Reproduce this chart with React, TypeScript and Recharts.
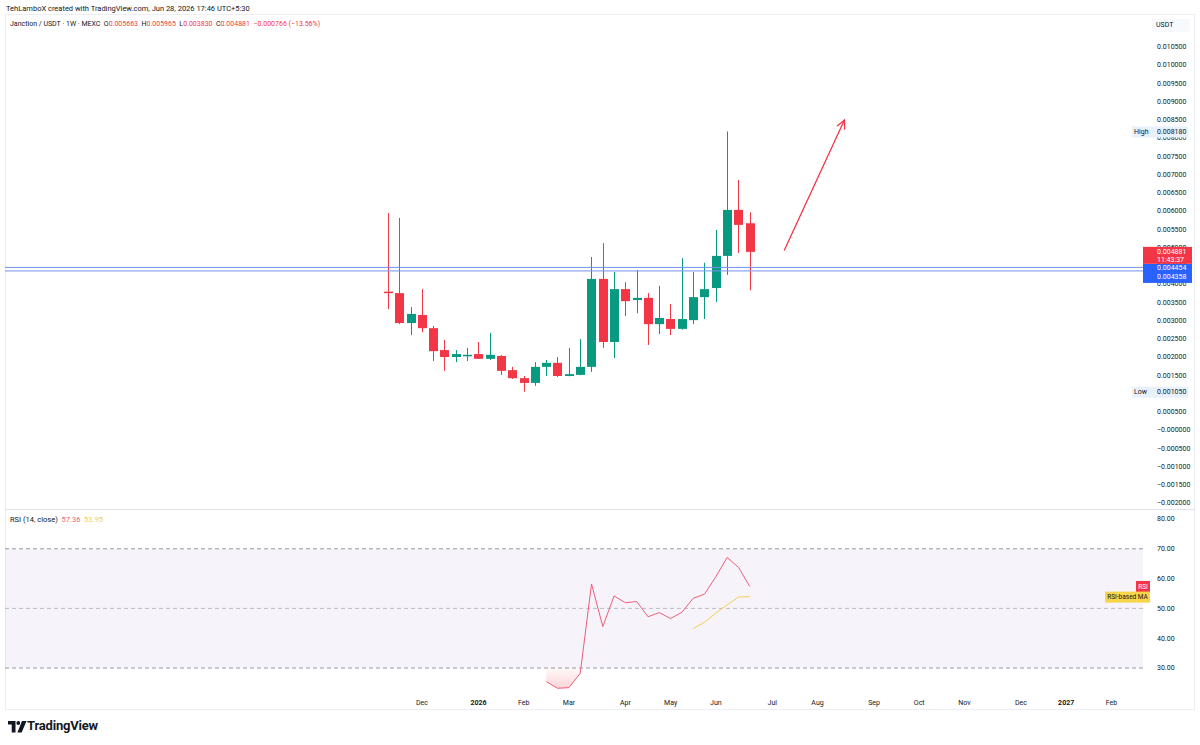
import React from 'react';
import {
    ComposedChart,
    Bar,
    Line,
    Area,
    XAxis,
    YAxis,
    ReferenceLine,
    ReferenceArea,
} from 'recharts';

// weekly candles, Nov 10 2025 -> Jun 22 2026 (index 1..33)
const opens = [
    0.00379, 0.00375, 0.00293, 0.00315, 0.00279, 0.00219, 0.002, 0.00204, 0.00208, 0.00195, 0.00203,
    0.00164, 0.00142, 0.00129, 0.00173, 0.00184, 0.00148, 0.00151, 0.00173, 0.00414, 0.00241, 0.00386,
    0.00356, 0.00362, 0.0029, 0.00304, 0.00277, 0.00301, 0.00364, 0.00389, 0.00477, 0.00603, 0.005663,
];
const highs = [
    0.005945, 0.00581, 0.00337, 0.00386, 0.00285, 0.00247, 0.00219, 0.00225, 0.00241, 0.00266, 0.00205,
    0.00173, 0.00148, 0.00186, 0.00192, 0.002, 0.00225, 0.00249, 0.00474, 0.00512, 0.00433, 0.00405,
    0.00438, 0.00375, 0.00395, 0.00345, 0.00471, 0.00433, 0.00458, 0.00548, 0.00818, 0.00685, 0.005965,
];
const lows = [
    0.00331, 0.0029, 0.0026, 0.00268, 0.00189, 0.00162, 0.00186, 0.00189, 0.00195, 0.00192, 0.00151,
    0.0014, 0.00105, 0.00121, 0.00148, 0.00145, 0.00147, 0.0015, 0.00159, 0.00225, 0.00197, 0.00312,
    0.0032, 0.00233, 0.00263, 0.0026, 0.00275, 0.0029, 0.00304, 0.00351, 0.00425, 0.00485, 0.00383,
];
const closes = [
    0.00375, 0.00293, 0.00318, 0.00279, 0.00216, 0.002, 0.00208, 0.00206, 0.00195, 0.00206, 0.00162,
    0.00142, 0.00129, 0.00173, 0.00184, 0.00148, 0.00153, 0.00173, 0.00414, 0.00241, 0.00386, 0.00353,
    0.00362, 0.0029, 0.00307, 0.00277, 0.00304, 0.00364, 0.00386, 0.00477, 0.00603, 0.00562, 0.004881,
];

const rsiStart = 15;
const rsiValues = [
    25.4, 23.2, 23.4, 28.2, 58.2, 43.9, 54.2, 51.9, 52.3, 47.2, 48.6, 46.6, 48.7, 53.4, 54.8, 60.6,
    67.1, 63.8, 57.36,
];
const rsiMaStart = 28;
const rsiMaValues = [43.2, 45.4, 48.4, 51.2, 53.8, 53.95];

const levelLines = [0.004454, 0.004358];
const lastClose = 0.004881;
const highMark = 0.00818;
const lowMark = 0.00105;
const arrowPoints = [
    { x: 36.07, y: 0.004932 },
    { x: 41.38, y: 0.008493 },
];

const monthTicks = [4, 9, 13, 17, 22, 26, 30, 35, 39, 44, 48, 52, 57, 61, 65];
const monthLabels = ['Dec', '2026', 'Feb', 'Mar', 'Apr', 'May', 'Jun', 'Jul', 'Aug', 'Sep', 'Oct', 'Nov', 'Dec', '2027', 'Feb'];
const priceTicks = [
    -0.002, -0.0015, -0.001, -0.0005, 0, 0.0005, 0.001, 0.0015, 0.002, 0.0025, 0.003, 0.0035, 0.004,
    0.0045, 0.005, 0.0055, 0.006, 0.0065, 0.007, 0.0075, 0.008, 0.0085, 0.009, 0.0095, 0.01, 0.0105,
];
const rsiTicks = [30, 40, 50, 60, 70, 80];

const GREEN = '#089981';
const RED = '#f23645';
const TEXT = '#131722';
const X_DOMAIN = [-32.9, 67.8];
const PRICE_DOMAIN = [-0.0021918, 0.0113699];

const candles = opens.map((o, k) => ({
    i: k + 1,
    open: o,
    high: highs[k],
    low: lows[k],
    close: closes[k],
    range: [lows[k], highs[k]],
}));

const rsiData = rsiValues.map((v, k) => {
    const i = rsiStart + k;
    const m = i - rsiMaStart;
    return {
        i,
        rsi: v,
        ma: m >= 0 ? rsiMaValues[m] : undefined,
        os: v < 30 ? [v, 30] : undefined,
    };
});

const Candle = (props: any) => {
    const { x, y, width, height, payload } = props;
    const { open, close, high, low } = payload;
    const color = close >= open ? GREEN : RED;
    const py = (v: number) => y + ((high - v) / (high - low)) * height;
    const top = py(Math.max(open, close));
    const bottom = py(Math.min(open, close));
    const cx = Math.round(x + width / 2) + 0.5;
    return (
        <g>
            <line x1={cx} x2={cx} y1={y} y2={y + height} stroke={color} strokeWidth={1} />
            <rect x={cx - 4.5} y={top} width={9} height={Math.max(bottom - top, 1.5)} fill={color} />
        </g>
    );
};

const Arrow = (props: any) => {
    const { x1, y1, x2, y2 } = props;
    const a = Math.atan2(y2 - y1, x2 - x1);
    const len = 9;
    const p1 = [x2 - len * Math.cos(a - 0.45), y2 - len * Math.sin(a - 0.45)];
    const p2 = [x2 - len * Math.cos(a + 0.45), y2 - len * Math.sin(a + 0.45)];
    return (
        <g stroke={RED} strokeWidth={1.3} fill="none" strokeLinecap="round">
            <line x1={x1} y1={y1} x2={x2} y2={y2} />
            <polyline points={`${p1[0]},${p1[1]} ${x2},${y2} ${p2[0]},${p2[1]}`} />
        </g>
    );
};

const fmtPrice = (v: number) => (v <= 0 ? '\u2212' + Math.abs(v).toFixed(6) : v.toFixed(6));

const MonthTick = (props: any) => {
    const { x, y, payload } = props;
    const label = monthLabels[monthTicks.indexOf(payload.value)];
    const bold = label.length === 4;
    return (
        <text x={x} y={y} dy={8.5} textAnchor="middle" fontSize={7} fontWeight={bold ? 700 : 400} fill={TEXT}>
            {label}
        </text>
    );
};

const CloseLabel = (props: any) => {
    const { viewBox } = props;
    const x = viewBox.x + viewBox.width;
    const y = viewBox.y;
    return (
        <g>
            <rect x={x} y={y - 5} width={49} height={17} fill={RED} />
            <text x={x + 14} y={y + 2.5} fontSize={7} fill="#fff">{lastClose.toFixed(6)}</text>
            <text x={x + 14} y={y + 10} fontSize={7} fill="#fff">11:43:37</text>
        </g>
    );
};

const LevelLabel = (props: any) => {
    const { viewBox } = props;
    const x = viewBox.x + viewBox.width;
    const y = viewBox.y;
    return (
        <g>
            <rect x={x} y={y - 3.5} width={49} height={19} fill="#2962ff" />
            <text x={x + 14} y={y + 3} fontSize={7} fill="#fff">{levelLines[0].toFixed(6)}</text>
            <text x={x + 14} y={y + 12} fontSize={7} fill="#fff">{levelLines[1].toFixed(6)}</text>
        </g>
    );
};

const MarkLabel = (name: string, value: number) => (props: any) => {
    const { viewBox } = props;
    const x = viewBox.x + viewBox.width;
    const y = viewBox.y;
    return (
        <g>
            <rect x={x - 11} y={y - 5} width={56} height={11} fill="#e8f0fb" />
            <text x={x - 9} y={y + 2.5} fontSize={7} fill={TEXT}>{name}</text>
            <text x={x + 14} y={y + 2.5} fontSize={7} fill={TEXT}>{value.toFixed(6)}</text>
        </g>
    );
};

const RsiTag = (props: any) => {
    const { viewBox } = props;
    const x = viewBox.x + viewBox.width;
    const y = viewBox.y;
    return (
        <g>
            <rect x={x - 7} y={y - 5.5} width={14} height={11} fill={RED} />
            <text x={x} y={y + 2.5} fontSize={6.5} fill="#fff" textAnchor="middle">RSI</text>
        </g>
    );
};

const MaTag = (props: any) => {
    const { viewBox } = props;
    const x = viewBox.x + viewBox.width;
    const y = viewBox.y;
    return (
        <g>
            <rect x={x - 38} y={y - 5} width={45} height={11} fill="#f8d448" />
            <text x={x - 15.5} y={y + 2.5} fontSize={6.5} fill={TEXT} textAnchor="middle">RSI-based MA</text>
        </g>
    );
};

export default function App() {
    return (
        <div
            style={{
                position: 'absolute',
                left: 0,
                top: 0,
                width: 1200,
                height: 745,
                background: '#fff',
                fontFamily: 'Roboto, "Noto Sans", sans-serif',
                color: TEXT,
                overflow: 'hidden',
            }}
        >
            <div style={{ position: 'absolute', left: 6, top: 4, fontSize: 7.5 }}>
                TehLamboX created with TradingView.com, Jun 28, 2026 17:46 UTC+5:30
            </div>
            <div
                style={{
                    position: 'absolute',
                    left: 5,
                    top: 14,
                    width: 1190,
                    height: 696,
                    border: '1px solid #eceef3',
                    boxSizing: 'border-box',
                }}
            />
            <div style={{ position: 'absolute', left: 0, top: 15 }}>
                <ComposedChart width={1200} height={495} data={candles} margin={{ top: 0, right: 0, bottom: 0, left: 5 }}>
                    <XAxis type="number" dataKey="i" domain={X_DOMAIN} allowDataOverflow hide />
                    <YAxis
                        orientation="right"
                        type="number"
                        width={57}
                        domain={PRICE_DOMAIN}
                        allowDataOverflow
                        ticks={priceTicks}
                        interval={0}
                        tickFormatter={fmtPrice}
                        tick={{ fontSize: 7, fill: TEXT }}
                        tickLine={false}
                        axisLine={false}
                        tickSize={0}
                        tickMargin={14}
                    />
                    <ReferenceLine y={levelLines[0]} stroke="#7393ea" strokeWidth={1} />
                    <ReferenceLine y={levelLines[1]} stroke="#7393ea" strokeWidth={1} />
                    <Bar dataKey="range" barSize={9} shape={<Candle />} isAnimationActive={false} />
                    <ReferenceLine
                        segment={arrowPoints}
                        stroke={RED}
                        shape={(p: any) => <Arrow {...p} />}
                    />
                </ComposedChart>
            </div>
            {/* overlay for the price-scale tags so they sit above the tick labels */}
            <div style={{ position: 'absolute', left: 0, top: 15 }}>
                <ComposedChart width={1200} height={495} data={candles} margin={{ top: 0, right: 57, bottom: 0, left: 5 }}>
                    <XAxis type="number" dataKey="i" domain={X_DOMAIN} allowDataOverflow hide />
                    <YAxis type="number" domain={PRICE_DOMAIN} allowDataOverflow hide />
                    <ReferenceLine y={levelLines[0]} stroke="none" label={<LevelLabel />} />
                    <ReferenceLine y={lastClose} stroke="none" label={<CloseLabel />} />
                    <ReferenceLine y={highMark} stroke="none" label={MarkLabel('High', highMark)} />
                    <ReferenceLine y={lowMark} stroke="none" label={MarkLabel('Low', lowMark)} />
                </ComposedChart>
            </div>
            <div style={{ position: 'absolute', left: 10, top: 20, fontSize: 7, whiteSpace: 'pre' }}>
                {'Janction / USDT · 1W · MEXC  O'}
                <span style={{ color: RED }}>0.005663</span>
                {'  H'}
                <span style={{ color: RED }}>0.005965</span>
                {'  L'}
                <span style={{ color: RED }}>0.003830</span>
                {'  C'}
                <span style={{ color: RED }}>0.004881</span>
                <span style={{ color: RED }}>{'  \u22120.000766 (\u221213.56%)'}</span>
            </div>
            <div
                style={{
                    position: 'absolute',
                    left: 1152,
                    top: 19,
                    width: 38,
                    height: 13,
                    background: '#f8f9fd',
                    fontSize: 7,
                    lineHeight: '13px',
                    paddingLeft: 4,
                    boxSizing: 'border-box',
                }}
            >
                USDT
            </div>
            <div style={{ position: 'absolute', left: 5, top: 509, width: 1190, height: 1, background: '#e0e3eb' }} />
            <div style={{ position: 'absolute', left: 0, top: 510 }}>
                <ComposedChart width={1200} height={205} data={rsiData} margin={{ top: 1, right: 0, bottom: 0, left: 5 }}>
                    <defs>
                        <linearGradient id="osFill" x1="0" y1="0" x2="0" y2="1">
                            <stop offset="0%" stopColor={RED} stopOpacity={0.05} />
                            <stop offset="100%" stopColor={RED} stopOpacity={0.35} />
                        </linearGradient>
                    </defs>
                    <XAxis
                        type="number"
                        dataKey="i"
                        domain={X_DOMAIN}
                        allowDataOverflow
                        ticks={monthTicks}
                        interval={0}
                        height={23}
                        tick={<MonthTick />}
                        tickLine={false}
                        axisLine={false}
                        tickSize={0}
                        tickMargin={4}
                    />
                    <YAxis
                        orientation="right"
                        type="number"
                        width={57}
                        domain={[21.95, 82.68]}
                        allowDataOverflow
                        ticks={rsiTicks}
                        interval={0}
                        tickFormatter={(v: number) => v.toFixed(2)}
                        tick={{ fontSize: 7, fill: TEXT }}
                        tickLine={false}
                        axisLine={false}
                        tickSize={0}
                        tickMargin={14}
                    />
                    <ReferenceArea y1={30} y2={70} fill="#7e57c2" fillOpacity={0.07} stroke="none" />
                    <ReferenceLine y={70} stroke="#9598a1" strokeDasharray="4 3" />
                    <ReferenceLine y={50} stroke="#9598a1" strokeDasharray="4 3" strokeOpacity={0.6} />
                    <ReferenceLine y={30} stroke="#9598a1" strokeDasharray="4 3" />
                    <Area dataKey="os" stroke="none" fill="url(#osFill)" isAnimationActive={false} />
                    <Line dataKey="ma" stroke="#f5cf4d" strokeWidth={1} dot={false} isAnimationActive={false} />
                    <Line dataKey="rsi" stroke="#ef5f76" strokeWidth={1} dot={false} isAnimationActive={false} />
                    <ReferenceLine y={57.36} stroke="none" label={<RsiTag />} />
                    <ReferenceLine y={53.95} stroke="none" label={<MaTag />} />
                </ComposedChart>
            </div>
            <div style={{ position: 'absolute', left: 10, top: 515, fontSize: 7.5, whiteSpace: 'pre' }}>
                {'RSI (14, close)  '}
                <span style={{ color: '#ef5f76' }}>57.36</span>
                {'  '}
                <span style={{ color: '#f5cf4d' }}>53.95</span>
            </div>
            <svg style={{ position: 'absolute', left: 8, top: 720 }} width={20} height={14}>
                <path d="M0 1h7.5v11.5h-3.8V4.6H0z" fill={TEXT} />
                <circle cx={10.3} cy={3} r={1.9} fill={TEXT} />
                <path d="M14 1h4.5l-4.8 11.5h-4.3z" fill={TEXT} />
            </svg>
            <div style={{ position: 'absolute', left: 27, top: 718, fontSize: 13, fontWeight: 700, letterSpacing: -0.2 }}>
                TradingView
            </div>
        </div>
    );
}
